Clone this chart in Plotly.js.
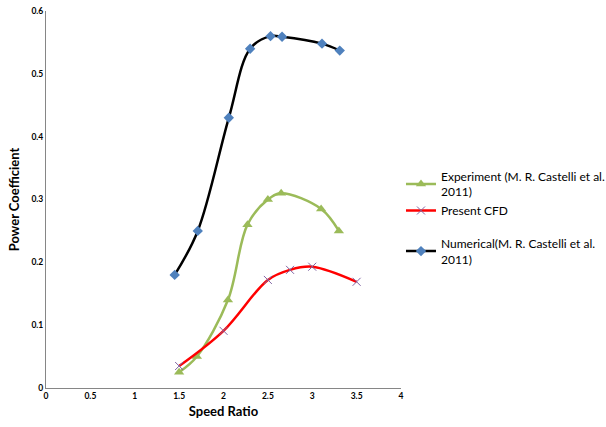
<!DOCTYPE html>
<html>
<head>
<meta charset="utf-8">
<script src="https://cdn.plot.ly/plotly-3.0.1.min.js"></script>
<style>html,body{margin:0;padding:0;background:#fff;}#chart{width:606px;height:427px;}</style>
</head>
<body>
<div id="chart"></div>
<script>
const expX = [1.5, 1.7, 2.05, 2.27, 2.5, 2.65, 3.1, 3.3];
const expY = [0.025, 0.05, 0.14, 0.26, 0.30, 0.31, 0.285, 0.25];
const cfdX = [1.5, 2.0, 2.5, 2.75, 3.0, 3.5];
const cfdY = [0.035, 0.091, 0.172, 0.188, 0.193, 0.169];
const numX = [1.45, 1.71, 2.06, 2.3, 2.53, 2.66, 3.11, 3.31];
const numY = [0.18, 0.25, 0.43, 0.54, 0.56, 0.559, 0.548, 0.537];
const names = ["Experiment (M. R. Castelli et al.<br>2011)", "Present CFD", "Numerical(M. R. Castelli et al.<br>2011)"];

const traces = [
  {x: expX, y: expY, name: names[0], mode: 'lines+markers', legendgroup: 'a',
   line: {color: '#9BBB59', width: 2.5, shape: 'spline', smoothing: 1},
   marker: {symbol: 'triangle-up', size: 9, color: '#9BBB59'}},
  {x: cfdX, y: cfdY, name: names[1], mode: 'lines+markers', legendgroup: 'a',
   line: {color: '#FF0000', width: 2.5, shape: 'spline', smoothing: 1},
   marker: {symbol: 'x-thin', size: 8, color: '#8064A2', line: {color: '#8064A2', width: 1}}},
  {x: numX, y: numY, name: names[2], mode: 'lines+markers', legendgroup: 'b',
   line: {color: '#000000', width: 2.5, shape: 'spline', smoothing: 1},
   marker: {symbol: 'diamond', size: 8, color: '#4F81BD'}}
];

const font = "Lato, 'Open Sans', sans-serif";
const layout = {
  width: 606, height: 427,
  margin: {l: 46, r: 205, t: 11, b: 39},
  paper_bgcolor: '#fff', plot_bgcolor: '#fff',
  font: {family: font, color: '#000'},
  showlegend: true,
  legend: {xref: 'container', x: 0.6617, y: 0.6, xanchor: 'left', yanchor: 'top', traceorder: 'grouped',
           font: {family: font, size: 12, color: '#000'},
           itemwidth: 30, tracegroupgap: 14, borderwidth: 0},
  xaxis: {range: [0, 4], dtick: 0.5, tick0: 0, showgrid: false, zeroline: false,
          showline: true, linecolor: '#868686', linewidth: 1, ticks: '',
          tickfont: {family: font, size: 8.5, color: '#000', weight: 'bold'},
          title: {text: '<b>Speed Ratio</b>', font: {family: font, size: 13}, standoff: 6}},
  yaxis: {range: [0, 0.6], dtick: 0.1, tick0: 0, showgrid: false, zeroline: false,
          showline: true, linecolor: '#868686', linewidth: 1, ticks: '',
          tickfont: {family: font, size: 8.5, color: '#000', weight: 'bold'},
          title: {text: '<b>Power Coefficient</b>', font: {family: font, size: 13}, standoff: 8}}
};
Plotly.newPlot('chart', traces, layout, {displayModeBar: false, staticPlot: true});
</script>
</body>
</html>
